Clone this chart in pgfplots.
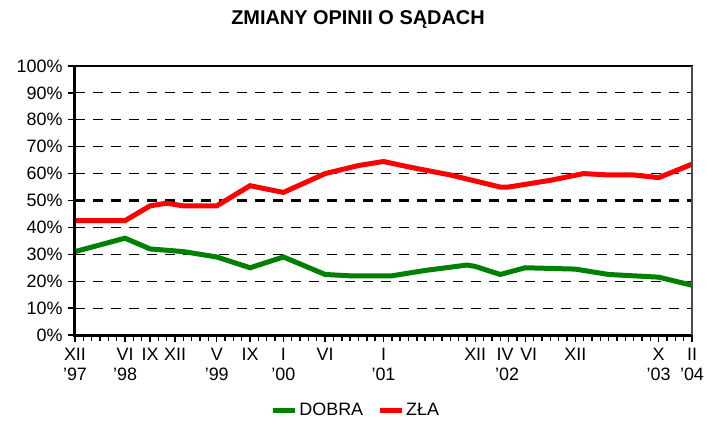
\documentclass[border=0pt]{standalone}
\usepackage{fontspec}
\setmainfont{Liberation Sans}
\usepackage{pgfplots}
\pgfplotsset{compat=1.18}
\definecolor{dobra}{RGB}{0,128,0}
\definecolor{zla}{RGB}{255,0,0}
\begin{document}
\begin{tikzpicture}
\path[use as bounding box] (-75bp,-89bp) rectangle (632bp,335bp);
\begin{axis}[
  scale only axis, width=617bp, height=269bp,
  at={(0,0)}, anchor=south west,
  xmin=0, xmax=74, ymin=0, ymax=100,
  clip=false,
  axis line style={line width=1.2bp, black},
  xtick={0,6,9,12,17,21,25,30,37,48,52,54,60,70,74},
  xticklabels={XII\\’97, VI\\’98, IX, XII, V\\’99, IX, I\\’00, VI, I\\’01, XII, IV\hspace*{7bp}\\’02\hspace*{3bp}, \hspace*{7bp}VI, XII, X\\’03, II\\’04},
  minor xtick={0,1,...,74},
  ytick={0,10,...,100},
  yticklabels={0\%,10\%,20\%,30\%,40\%,50\%,60\%,70\%,80\%,90\%,100\%},
  xtick pos=bottom, ytick pos=left,
  xtick align=outside, ytick align=outside,
  major tick length=7bp, minor tick length=6bp,
  tick style={line width=1.4bp, black},
  ymajorgrids,
  grid style={black, line width=1.2bp, dash pattern=on 10bp off 8bp},
  extra y ticks={50}, extra y tick labels={},
  extra y tick style={grid style={black, line width=2.6bp, dash pattern=on 10bp off 8bp}, major tick length=0bp},
  tick label style={font=\fontsize{18}{20}\selectfont},
  xticklabel style={align=center, yshift=-3bp},
  yticklabel style={xshift=-2bp},
  legend style={at={(0.455,-0.28)}, anchor=center, draw=none, fill=none,
    font=\fontsize{18}{20}\selectfont, legend columns=2,
    /tikz/every even column/.append style={column sep=12bp}},
  legend image code/.code={\draw[line width=5bp] (0bp,0bp) -- (22bp,0bp);},
]
\addplot[dobra, line width=5bp] coordinates {
(0,31) (6,36) (9,32) (11,31.5) (13,31) (17,29) (21,25) (25,29) (30,22.5)
(33,22) (38,22) (42,24) (47,26) (48,25.5) (51,22.5) (54,25) (60,24.5)
(64,22.5) (67,22) (70,21.5) (74,18.5)};
\addlegendentry{DOBRA}
\addplot[zla, line width=5bp] coordinates {
(0,42.5) (6,42.5) (9,48) (11,49) (13,48) (17,48) (21,55.5) (25,53) (30,60)
(34,63) (37,64.5) (40,62.5) (45,59.5) (51,55) (52,55) (57,57.5) (61,60)
(64,59.5) (67,59.5) (70,58.5) (74,63.5)};
\addlegendentry{ZŁA}
\draw[line width=3bp, black] (rel axis cs:0,1) -- (rel axis cs:0,0) -- (rel axis cs:1,0);
\draw[line width=1.5bp, black!70] (rel axis cs:1,0) -- (rel axis cs:1,1);
\end{axis}
\node[font=\bfseries\fontsize{20}{24}\selectfont] at (283bp,315bp) {ZMIANY OPINII O SĄDACH};
\end{tikzpicture}
\end{document}
